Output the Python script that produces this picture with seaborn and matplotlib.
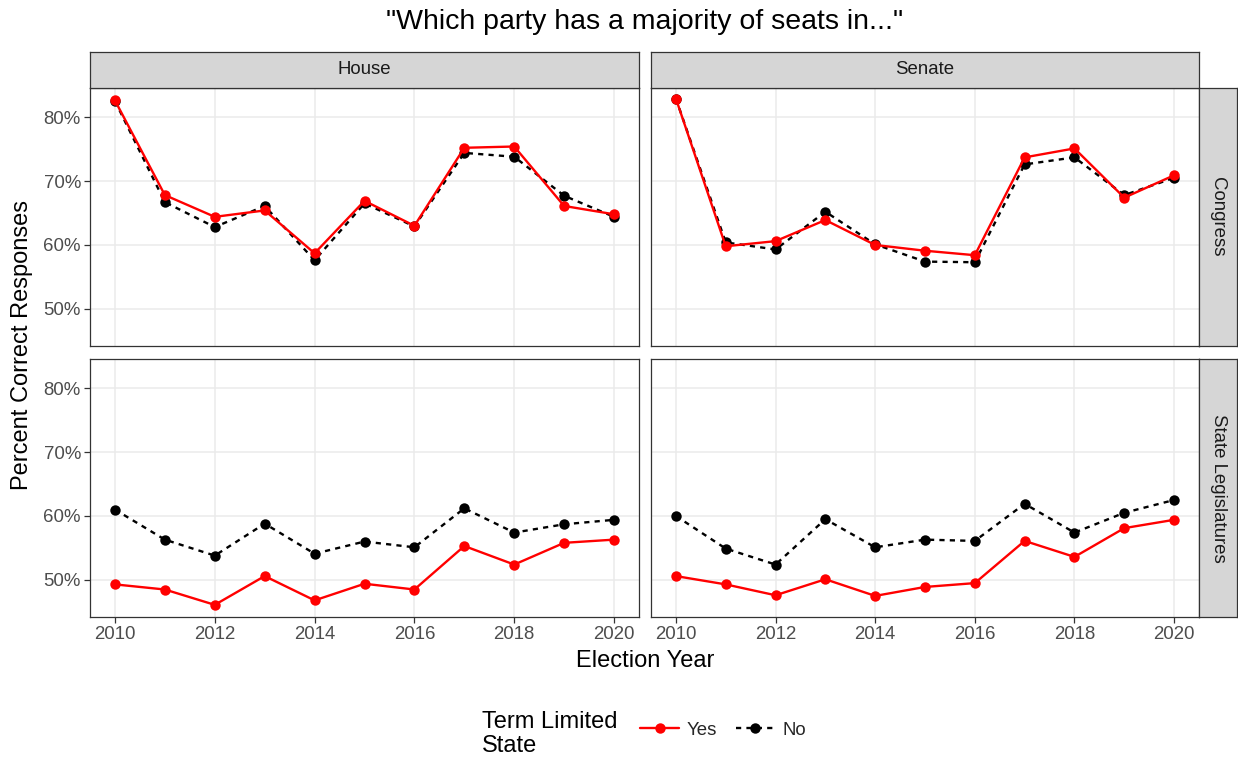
import numpy as np
import pandas as pd
import matplotlib
matplotlib.use("Agg")
import matplotlib.pyplot as plt
from matplotlib.lines import Line2D
import seaborn as sns

years = list(range(2010, 2021))

# Percent correct responses by chamber, level and term-limit status
house_congress_yes = [82.6, 67.8, 64.4, 65.4, 58.7, 66.9, 63.0, 75.2, 75.4, 66.1, 64.8]
house_congress_no = [82.5, 66.7, 62.8, 66.1, 57.6, 66.5, 62.9, 74.4, 73.8, 67.7, 64.4]
senate_congress_yes = [82.9, 59.8, 60.6, 63.9, 60.0, 59.1, 58.4, 73.7, 75.1, 67.4, 70.9]
senate_congress_no = [82.9, 60.4, 59.3, 65.2, 60.1, 57.4, 57.3, 72.6, 73.7, 67.8, 70.5]
house_state_yes = [49.3, 48.5, 46.1, 50.6, 46.8, 49.4, 48.5, 55.3, 52.4, 55.8, 56.3]
house_state_no = [61.0, 56.3, 53.8, 58.8, 54.1, 56.0, 55.1, 61.2, 57.4, 58.7, 59.4]
senate_state_yes = [50.6, 49.3, 47.6, 50.1, 47.5, 48.9, 49.5, 56.1, 53.6, 58.1, 59.4]
senate_state_no = [60.0, 54.9, 52.4, 59.5, 55.1, 56.3, 56.1, 61.9, 57.4, 60.5, 62.5]

chambers = ["House", "Senate"]
levels = ["Congress", "State Legislatures"]
term_limited = ["Yes", "No"]
y_ticks = [50, 60, 70, 80]
x_ticks = [2010, 2012, 2014, 2016, 2018, 2020]

series = {
    ("House", "Congress", "Yes"): house_congress_yes,
    ("House", "Congress", "No"): house_congress_no,
    ("Senate", "Congress", "Yes"): senate_congress_yes,
    ("Senate", "Congress", "No"): senate_congress_no,
    ("House", "State Legislatures", "Yes"): house_state_yes,
    ("House", "State Legislatures", "No"): house_state_no,
    ("Senate", "State Legislatures", "Yes"): senate_state_yes,
    ("Senate", "State Legislatures", "No"): senate_state_no,
}

rows = []
for (ch, lv, tl), vals in series.items():
    for yr, v in zip(years, vals):
        rows.append({"chamber": ch, "level": lv, "term": tl, "year": yr, "pct": v})
df = pd.DataFrame(rows)

sns.set_theme(style="white")
plt.rcParams["font.family"] = ["Liberation Sans", "DejaVu Sans"]

W, H = 1238, 759
fig = plt.figure(figsize=(W / 100, H / 100), dpi=100)
fig.patch.set_facecolor("white")


def rect(l, t, r, b):
    return [l / W, 1 - b / H, (r - l) / W, (b - t) / H]


col_x = [(90, 639), (651, 1199)]
row_y = [(88, 346), (359, 617)]
edge = "#333333"
grid = "#EBEBEB"
tick_col = "#4D4D4D"
small = 13.4
big = 17

styles = {
    "Yes": dict(color="#FF0000", linestyle="-"),
    "No": dict(color="black", linestyle=(0, (2.2, 2.2))),
}

for ri, lv in enumerate(levels):
    for ci, ch in enumerate(chambers):
        l, r = col_x[ci]
        t, b = row_y[ri]
        ax = fig.add_axes(rect(l, t, r, b))
        sub = df[(df.chamber == ch) & (df.level == lv)]
        for tl in ["No", "Yes"]:
            d = sub[sub.term == tl]
            sns.lineplot(data=d, x="year", y="pct", ax=ax, color=styles[tl]["color"],
                         linestyle=styles[tl]["linestyle"], linewidth=1.7,
                         marker="o", markersize=7.5, markeredgewidth=0,
                         legend=False, zorder=3)
        ax.set_xlim(2009.5, 2020.5)
        ax.set_ylim(44.2, 84.55)
        ax.set_xticks(x_ticks)
        ax.set_yticks(y_ticks)
        ax.grid(True, color=grid, linewidth=1.1)
        ax.set_axisbelow(True)
        for s in ax.spines.values():
            s.set_color(edge)
            s.set_linewidth(0.9)
        ax.set_xlabel("")
        ax.set_ylabel("")
        ax.tick_params(axis="both", colors=edge, length=4, width=0.9,
                       labelsize=small, labelcolor=tick_col, pad=2.5)
        if ci == 0:
            ax.set_yticklabels([f"{v}%" for v in y_ticks])
            ax.tick_params(axis="y", left=True)
        else:
            ax.tick_params(axis="y", left=False, labelleft=False)
        if ri == 1:
            ax.tick_params(axis="x", bottom=True)
        else:
            ax.tick_params(axis="x", bottom=False, labelbottom=False)

# Facet strips
for ci, ch in enumerate(chambers):
    l, r = col_x[ci]
    sax = fig.add_axes(rect(l, 52, r, 88))
    sax.set_facecolor("#D6D6D6")
    sax.set_xticks([]); sax.set_yticks([])
    for s in sax.spines.values():
        s.set_color(edge); s.set_linewidth(0.9)
    sax.text(0.5, 0.5, ch, ha="center", va="center", fontsize=small, color="#1A1A1A",
             transform=sax.transAxes)

for ri, lv in enumerate(levels):
    t, b = row_y[ri]
    sax = fig.add_axes(rect(1199, t, 1237, b))
    sax.set_facecolor("#D6D6D6")
    sax.set_xticks([]); sax.set_yticks([])
    for s in sax.spines.values():
        s.set_color(edge); s.set_linewidth(0.9)
    sax.text(0.5, 0.5, lv, ha="center", va="center", rotation=-90, fontsize=small,
             color="#1A1A1A", transform=sax.transAxes)

fig.text(645 / W, 1 - 22 / H, '"Which party has a majority of seats in..."',
         ha="center", va="center", fontsize=20.5, color="black")
fig.text(22 / W, 1 - 345 / H, "Percent Correct Responses", rotation=90,
         ha="center", va="center", fontsize=big, color="black")
fig.text(645 / W, 1 - 661 / H, "Election Year", ha="center", va="center",
         fontsize=big, color="black")

# Legend
fig.text(482 / W, 1 - 734 / H, "Term Limited\nState", ha="left", va="center",
         fontsize=big, color="black", linespacing=1.08)
handles = [
    Line2D([], [], color="#FF0000", linestyle="-", linewidth=1.7, marker="o",
           markersize=7.5, markeredgewidth=0),
    Line2D([], [], color="black", linestyle=(0, (2.2, 2.2)), linewidth=1.7, marker="o",
           markersize=7.5, markeredgewidth=0),
]
fig.legend(handles, term_limited, loc="center left", bbox_to_anchor=(640 / W, 1 - 730 / H),
           ncol=2, frameon=False, fontsize=small, handlelength=2.1, handletextpad=0.42,
           columnspacing=1.0, borderpad=0, borderaxespad=0)

fig.savefig("out.png", dpi=100, facecolor="white")
